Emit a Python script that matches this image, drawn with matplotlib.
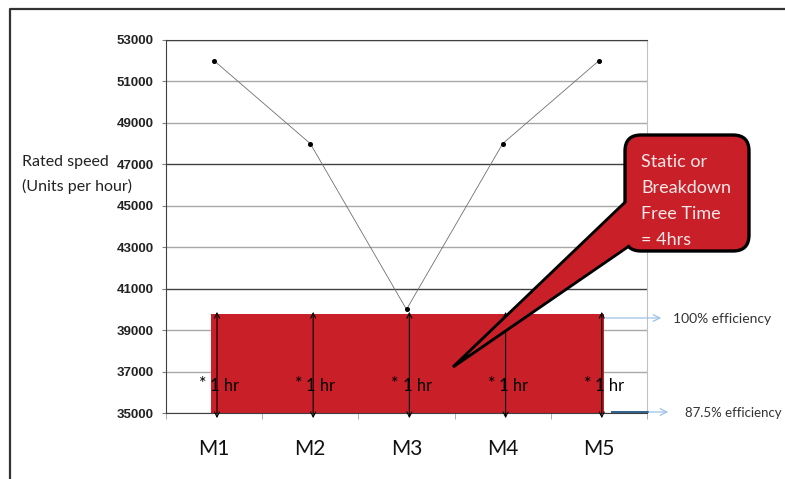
import numpy as np
import matplotlib.pyplot as plt
from matplotlib.patches import Rectangle, Polygon, FancyBboxPatch

machines = ["M1", "M2", "M3", "M4", "M5"]
rated_speed = [52000, 48000, 40000, 48000, 52000]
band_base = 35000
band_top = 39800
hours = ["1 hr", "1 hr", "1 hr", "1 hr", "1 hr"]
y_ticks = [35000, 37000, 39000, 41000, 43000, 45000, 47000, 49000, 51000, 53000]
dark_grid = [41000, 47000, 53000]

red = "#c91f28"
body_font = "Lato"

fig = plt.figure(figsize=(7.85, 4.79), dpi=100)
ax = fig.add_axes([166/785, 1 - 413/479, 481/785, 373/479])

x = np.arange(len(machines))
ax.set_xlim(-0.5, len(machines) - 0.5)
ax.set_ylim(y_ticks[0], y_ticks[-1])

# horizontal grid, a few lines print darker
for v in y_ticks:
    c = "#404040" if v in dark_grid else "#a8a8a8"
    ax.axhline(v, color=c, lw=1.0, zorder=0)

# red block of production time
ax.add_patch(Rectangle((x[0] - 0.03, band_base), x[-1] - x[0] + 0.08,
                       band_top - band_base, facecolor=red, edgecolor="none", zorder=1))

# one hour double arrows with labels
for i, h in zip(x, hours):
    ax.annotate("", xy=(i + 0.03, band_top + 80), xytext=(i + 0.03, band_base - 250),
                arrowprops=dict(arrowstyle="<->", lw=0.8, color="black",
                                shrinkA=0, shrinkB=0, mutation_scale=9),
                annotation_clip=False, zorder=3)
    ax.text(i - 0.08, 36420, "*", fontsize=13, family=body_font, ha="right",
            va="center", zorder=4)
    ax.text(i - 0.04, 36320, h, fontsize=12, family=body_font, ha="left",
            va="center", zorder=4)

ax.plot(x, rated_speed, color="#707070", lw=0.6, marker="o", markersize=2.6,
        markerfacecolor="black", markeredgecolor="black", zorder=2)

ax.set_yticks(y_ticks)
ax.set_yticklabels([str(v) for v in y_ticks], fontsize=9.5, fontweight="bold",
                   family="Liberation Sans", color="#222222")
ax.tick_params(axis="y", length=3, color="#808080", pad=6)
ax.set_xticks(x)
ax.set_xticklabels(machines, fontsize=15, family=body_font, color="#111111")
ax.tick_params(axis="x", which="major", length=0, pad=19)
ax.set_xticks(np.arange(-0.5, len(machines), 1.0), minor=True)
ax.tick_params(axis="x", which="minor", length=4, color="#a0a0a0", direction="out")

ax.spines["left"].set_color("#404040")
ax.spines["bottom"].set_color("#404040")
ax.spines["top"].set_color("#404040")
ax.spines["right"].set_color("#c0c0c0")

# overlay in pixel units for frame, callout and side notes
ov = fig.add_axes([0, 0, 1, 1], zorder=5)
ov.set_xlim(0, 785)
ov.set_ylim(479, 0)
ov.set_axis_off()

ov.plot([10, 10, 785], [479, 8.5, 8.5], color="#333333", lw=1.6)

ov.text(22, 162, "Rated speed", fontsize=11.5, family=body_font, va="center", color="#222222")
ov.text(22, 186, "(Units per hour)", fontsize=11.5, family=body_font, va="center", color="#222222")

# callout with pointer into the red block
ov.add_patch(Polygon([(453, 367), (640, 188), (645, 235)], closed=True,
                     facecolor=red, edgecolor="black", lw=2.2, joinstyle="miter"))
ov.add_patch(FancyBboxPatch((625, 135), 124, 116,
                            boxstyle="round,pad=0,rounding_size=16",
                            facecolor=red, edgecolor="black", lw=2.4))
ov.add_patch(Polygon([(467.5, 355.2), (641, 189), (644, 234)], closed=True,
                     facecolor=red, edgecolor="none", lw=0))
for yy, line in zip([162, 188, 214, 240], ["Static or", "Breakdown", "Free Time", "= 4hrs"]):
    ov.text(641, yy, line, fontsize=13, family=body_font, color="#fbe8e8",
            ha="left", va="center")

# efficiency notes
ov.annotate("", xy=(664, 318), xytext=(603, 318),
            arrowprops=dict(arrowstyle="->", color="#9dc3e6", lw=0.9, mutation_scale=12))
ov.text(673, 319, "100% efficiency", fontsize=10, family=body_font, va="center", color="#333333")
ov.plot([612, 648], [412, 412], color="#2e5f8a", lw=1.4)
ov.annotate("", xy=(671, 412), xytext=(646, 412),
            arrowprops=dict(arrowstyle="->", color="#9dc3e6", lw=0.9, mutation_scale=12))
ov.text(685, 413, "87.5% efficiency", fontsize=9.5, family=body_font, va="center", color="#333333")

fig.savefig("out.png", dpi=100)
